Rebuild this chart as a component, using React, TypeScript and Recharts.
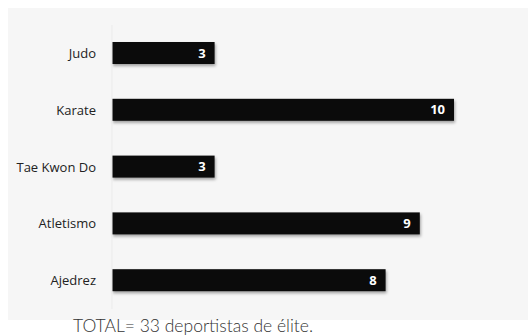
import React from 'react';
import { BarChart, Bar, XAxis, YAxis, LabelList } from 'recharts';

const sports = ['Judo', 'Karate', 'Tae Kwon Do', 'Atletismo', 'Ajedrez'];
const athletes = [3, 10, 3, 9, 8];
const totalNote = 'TOTAL= 33 deportistas de élite.';

const data = sports.map((name, i) => ({ name, value: athletes[i] }));

const ShadowBar = (props: any) => {
    const { x, y, width, height } = props;
    return (
        <rect
            x={x}
            y={y}
            width={width}
            height={height}
            fill="#0b0b0b"
            style={{ filter: 'drop-shadow(1px 2px 1.5px rgba(0,0,0,0.35))' }}
        />
    );
};

export default function App() {
    return (
        <div style={{ position: 'relative', width: 528, height: 336, overflow: 'hidden', background: '#fff' }}>
            <style>{'html, body { margin: 0; overflow: hidden; }'}</style>
            <div style={{ position: 'absolute', left: 8, top: 8 }}>
                <BarChart
                    width={520}
                    height={312}
                    data={data}
                    layout="vertical"
                    margin={{ top: 17, right: 74, bottom: 11, left: 0 }}
                    style={{ background: '#f6f6f6' }}
                >
                    <XAxis type="number" domain={[0, 10]} hide />
                    <YAxis
                        type="category"
                        dataKey="name"
                        width={104}
                        axisLine={{ stroke: '#ebebeb' }}
                        tickLine={false}
                        tickMargin={10}
                        tick={{ fill: '#222', fontSize: 13, fontFamily: 'Open Sans' }}
                    />
                    <Bar dataKey="value" barSize={22} shape={<ShadowBar />} isAnimationActive={false}>
                        <LabelList
                            dataKey="value"
                            position="insideRight"
                            offset={9}
                            fill="#ffffff"
                            fontSize={13}
                            fontWeight="bold"
                            fontFamily="Open Sans"
                        />
                    </Bar>
                </BarChart>
            </div>
            <div
                style={{
                    position: 'absolute',
                    left: 73,
                    top: 316,
                    fontFamily: 'Lato',
                    fontWeight: 300,
                    fontSize: 17.5,
                    lineHeight: '20px',
                    color: '#333',
                    whiteSpace: 'nowrap',
                }}
            >
                {totalNote}
            </div>
        </div>
    );
}
